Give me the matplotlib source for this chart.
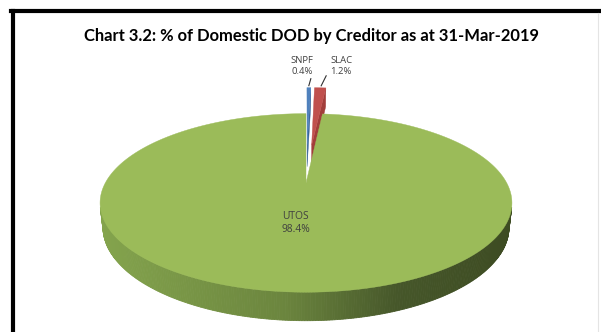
import numpy as np
import matplotlib.pyplot as plt
from matplotlib.patches import Polygon
from matplotlib.colors import to_rgb

# domestic debt outstanding by creditor (%)
creditors = ['SNPF', 'SLAC', 'UTOS']
shares = [0.4, 1.2, 98.4]
labels = ['0.4%', '1.2%', '98.4%']
exploded = [True, True, False]

top_colors = ['#4f81bd', '#c0504d', '#9bbb59']
cut_colors = ['#3a6499', '#a23e3b', '#6f8a3c']
wall_stops = [(0.0, '#84a44d'), (0.45, '#6b853e'), (0.72, '#46572a'), (1.0, '#3d4b22')]

title = 'Chart 3.2: % of Domestic DOD by Creditor as at 31-Mar-2019'

# 3d pie camera (pixel space)
cx, cy = 306, 183
tilt = np.radians(25)
dist = 4.06
focal = 815
height = 0.132
explode = 0.5


def proj(X, Y, Z=0.0):
    X, Y, Z = np.asarray(X, float), np.asarray(Y, float), np.asarray(Z, float)
    depth = dist + Y * np.cos(tilt) - Z * np.sin(tilt)
    sx = focal * X / depth
    sy = focal * (Y * np.sin(tilt) + Z * np.cos(tilt)) / depth
    return cx + sx, cy - sy


def wall_color(t):
    ts = [s[0] for s in wall_stops]
    cs = np.array([to_rgb(s[1]) for s in wall_stops])
    return [np.interp(t, ts, cs[:, k]) for k in range(3)]


fig = plt.figure(figsize=(6.01, 3.32), dpi=100)
ax = fig.add_axes([0, 0, 1, 1])
ax.set_xlim(0, 601)
ax.set_ylim(332, 0)
ax.axis('off')

# chart frame
ax.plot([13, 13], [11, 340], color='black', lw=3, solid_capstyle='projecting')
ax.plot([11, 610], [11, 11], color='black', lw=3, solid_capstyle='projecting')
ax.plot([598, 598], [13, 332], color='#e4e4e4', lw=0.8)

ax.text(311, 36, title, ha='center', va='center', fontsize=11.9,
        fontweight='bold', family='Lato', color='black')

bounds = np.cumsum([0] + shares) / 100 * 360

# exploded slivers first (they sit behind the main slice)
for i in range(len(shares)):
    if not exploded[i]:
        continue
    a0, a1 = np.radians(bounds[i]), np.radians(bounds[i + 1])
    mid = (a0 + a1) / 2
    ox, oy = explode * np.sin(mid), explode * np.cos(mid)
    # visible cut face
    fx = [ox, ox + np.sin(a1), ox + np.sin(a1), ox]
    fy = [oy, oy + np.cos(a1), oy + np.cos(a1), oy]
    fz = [0, 0, -height, -height]
    px, py = proj(fx, fy, fz)
    ax.add_patch(Polygon(np.c_[px, py], closed=True, fc=cut_colors[i],
                         ec=cut_colors[i], lw=0.3))
    arc = np.linspace(a0, a1, 10)
    tx = np.r_[ox, ox + np.sin(arc)]
    ty = np.r_[oy, oy + np.cos(arc)]
    px, py = proj(tx, ty)
    ax.add_patch(Polygon(np.c_[px, py], closed=True, fc=top_colors[i],
                         ec=top_colors[i], lw=0.3))

    # label with leader line
    lx, ly = proj(ox + np.sin(mid), oy + np.cos(mid))
    lx, ly = float(lx), float(ly)
    dx = -7 if i == 0 else 21
    ax.text(lx + dx, ly - 22, creditors[i] + '\n' + labels[i], ha='center',
            va='center', fontsize=6.8, family='Open Sans', color='#404040',
            linespacing=1.25)
    ax.plot([lx + 2 + (0 if i == 0 else 4), lx + (0 if i == 0 else 1)],
            [ly - 9 + (0 if i == 0 else -3), ly - 2], color='#303030', lw=0.8)

# main slice: shaded front wall, then the top face
i = 2
a0, a1 = np.radians(bounds[i]), np.radians(bounds[i + 1])
lim = np.arccos(-1 / (dist * np.cos(tilt)))
wa = np.linspace(max(a0, lim), min(a1, 2 * np.pi - lim), 240)
rx0, _ = proj(np.sin(lim), np.cos(lim))
rx1, _ = proj(np.sin(2 * np.pi - lim), np.cos(2 * np.pi - lim))
for k in range(len(wa) - 1):
    s = wa[k:k + 2]
    qx = np.r_[np.sin(s), np.sin(s[::-1])]
    qy = np.r_[np.cos(s), np.cos(s[::-1])]
    qz = [0, 0, -height, -height]
    px, py = proj(qx, qy, qz)
    t = (px.mean() - rx1) / (rx0 - rx1)
    c = wall_color(np.clip(t, 0, 1))
    ax.add_patch(Polygon(np.c_[px, py], closed=True, fc=c, ec=c, lw=0.6))

arc = np.linspace(a0, a1, 400)
px, py = proj(np.r_[0, np.sin(arc)], np.r_[0, np.cos(arc)])
ax.add_patch(Polygon(np.c_[px, py], closed=True, fc=top_colors[i],
                     ec=top_colors[i], lw=0.3))

mid = (a0 + a1) / 2
lx, ly = proj(0.4 * np.sin(mid), 0.4 * np.cos(mid))
ax.text(float(lx) - 6, float(ly) + 3, creditors[i] + '\n' + labels[i], ha='center',
        va='center', fontsize=7.4, family='Open Sans', color='#404040',
        linespacing=1.3)

fig.savefig('out.png', dpi=100, facecolor='white')
